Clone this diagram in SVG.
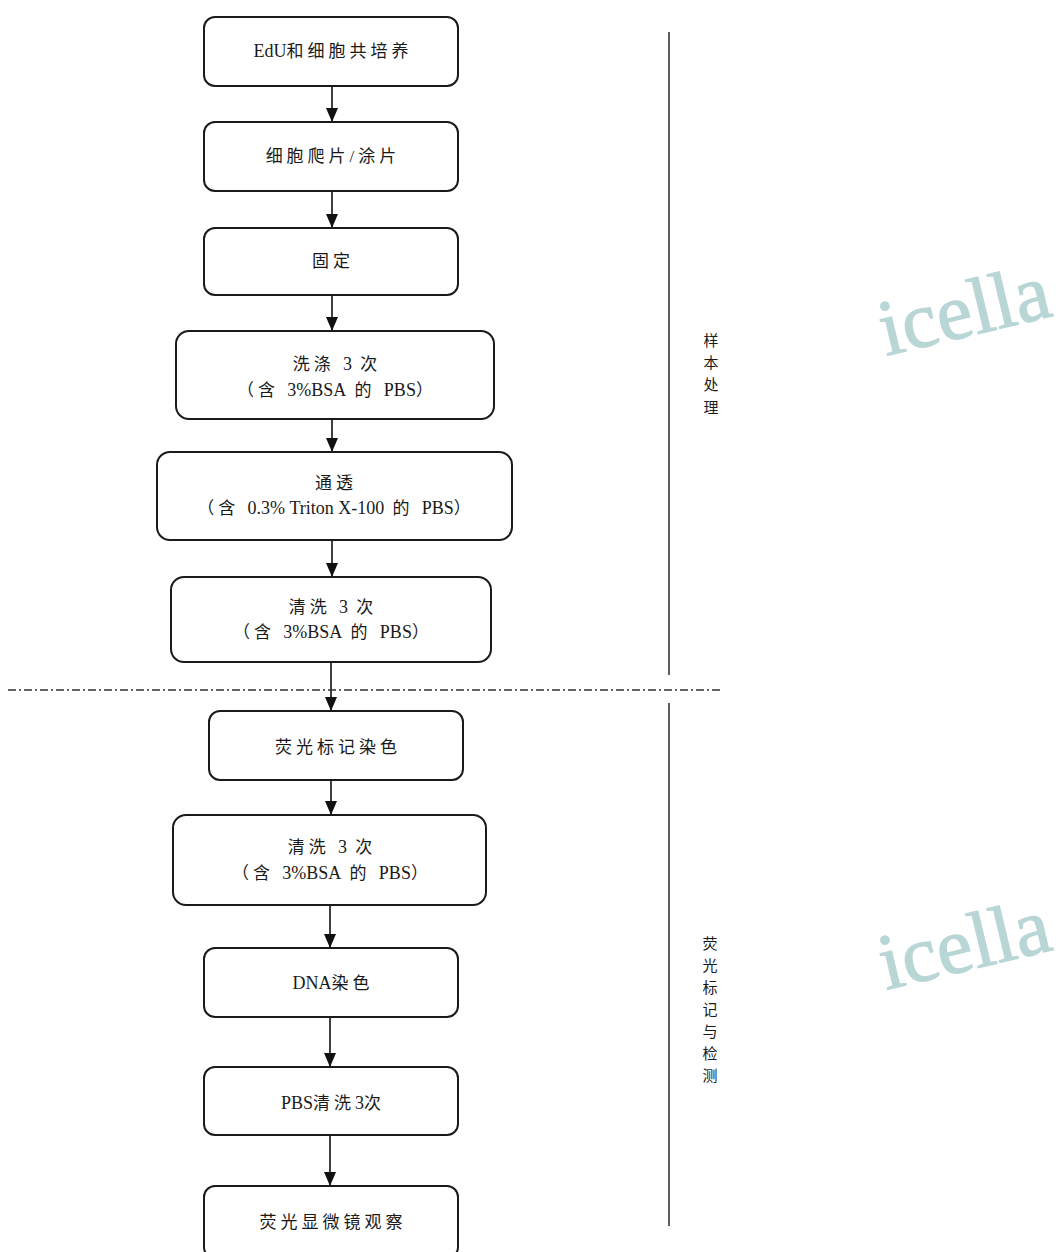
<svg xmlns="http://www.w3.org/2000/svg" width="1063" height="1252" viewBox="0 0 1063 1252">
<defs>
<style>
.box{fill:#fff;stroke:#1a1a1a;stroke-width:2}
.t{font-family:"Liberation Serif","Noto Sans CJK SC",serif;font-size:17px;fill:#1a1a1a;text-anchor:middle;letter-spacing:4px}
.l{font-size:18px;letter-spacing:0}
.side{font-family:"Liberation Serif","Noto Sans CJK SC",serif;font-size:15px;fill:#1a1a1a;text-anchor:middle}
.c{stroke:#111;stroke-width:1.6;fill:none}
.wm{font-family:"Liberation Serif",serif;font-size:80px;fill:#b9d6d6;stroke:#b9d6d6;stroke-width:1.2}
</style>
<marker id="ah" viewBox="0 0 14 12" refX="14" refY="6" markerWidth="14" markerHeight="12" markerUnits="userSpaceOnUse" orient="auto">
<path d="M0,0 L14,6 L0,12 Z" fill="#111"/>
</marker>
</defs>
<rect width="1063" height="1252" fill="#fff"/>
<g id="watermarks">
<text class="wm" transform="translate(886,356) rotate(-13.5)">icella</text>
<text class="wm" transform="translate(886,990) rotate(-13.5)">icella</text>
</g>
<g id="connectors">
<line class="c" x1="332" y1="86" x2="332" y2="122" marker-end="url(#ah)"/>
<line class="c" x1="332" y1="191" x2="332" y2="228" marker-end="url(#ah)"/>
<line class="c" x1="332" y1="295" x2="332" y2="331" marker-end="url(#ah)"/>
<line class="c" x1="332" y1="419" x2="332" y2="452" marker-end="url(#ah)"/>
<line class="c" x1="332" y1="540" x2="332" y2="577" marker-end="url(#ah)"/>
<line class="c" x1="331" y1="662" x2="331" y2="711" marker-end="url(#ah)"/>
<line class="c" x1="331" y1="780" x2="331" y2="815" marker-end="url(#ah)"/>
<line class="c" x1="330" y1="905" x2="330" y2="948" marker-end="url(#ah)"/>
<line class="c" x1="330" y1="1017" x2="330" y2="1067" marker-end="url(#ah)"/>
<line class="c" x1="330" y1="1135" x2="330" y2="1186" marker-end="url(#ah)"/>
</g>
<g id="dividers">
<line x1="8" y1="690" x2="722" y2="690" stroke="#333" stroke-width="1.5" stroke-dasharray="8,3,2,3"/>
<line x1="669" y1="32" x2="669" y2="675" stroke="#333" stroke-width="1.6"/>
<line x1="669" y1="703" x2="669" y2="1226" stroke="#333" stroke-width="1.6"/>
</g>
<g id="n1"><rect class="box" x="204" y="17" width="254" height="69" rx="11"/><text class="t" x="333" y="57"><tspan class="l">EdU</tspan>和细胞共培养</text></g>
<g id="n2"><rect class="box" x="204" y="122" width="254" height="69" rx="11"/><text class="t" x="333" y="162">细胞爬片/涂片</text></g>
<g id="n3"><rect class="box" x="204" y="228" width="254" height="67" rx="11"/><text class="t" x="333" y="267">固定</text></g>
<g id="n4"><rect class="box" x="176" y="331" width="318" height="88" rx="13"/><text class="t" x="337" y="370">洗涤 <tspan class="l">3</tspan> 次</text><text class="t" x="337" y="396">（含 <tspan class="l">3%BSA</tspan> 的 <tspan class="l">PBS</tspan>）</text></g>
<g id="n5"><rect class="box" x="157" y="452" width="355" height="88" rx="13"/><text class="t" x="336" y="489">通透</text><text class="t" x="336" y="514">（含 <tspan class="l">0.3% Triton X-100</tspan> 的 <tspan class="l">PBS</tspan>）</text></g>
<g id="n6"><rect class="box" x="171" y="577" width="320" height="85" rx="13"/><text class="t" x="333" y="613">清洗 <tspan class="l">3</tspan> 次</text><text class="t" x="333" y="638">（含 <tspan class="l">3%BSA</tspan> 的 <tspan class="l">PBS</tspan>）</text></g>
<g id="n7"><rect class="box" x="209" y="711" width="254" height="69" rx="11"/><text class="t" x="338" y="753">荧光标记染色</text></g>
<g id="n8"><rect class="box" x="173" y="815" width="313" height="90" rx="13"/><text class="t" x="332" y="853">清洗 <tspan class="l">3</tspan> 次</text><text class="t" x="332" y="879">（含 <tspan class="l">3%BSA</tspan> 的 <tspan class="l">PBS</tspan>）</text></g>
<g id="n9"><rect class="box" x="204" y="948" width="254" height="69" rx="11"/><text class="t" x="333" y="989"><tspan class="l">DNA</tspan>染色</text></g>
<g id="n10"><rect class="box" x="204" y="1067" width="254" height="68" rx="11"/><text class="t" x="333" y="1109"><tspan class="l">PBS</tspan>清洗<tspan class="l">3</tspan>次</text></g>
<g id="n11"><rect class="box" x="204" y="1186" width="254" height="72" rx="11"/><text class="t" x="333" y="1228">荧光显微镜观察</text></g>
<g id="label1">
<text class="side" x="711" y="346">样</text><text class="side" x="711" y="368">本</text><text class="side" x="711" y="390">处</text><text class="side" x="711" y="413">理</text>
</g>
<g id="label2">
<text class="side" x="710" y="949">荧</text><text class="side" x="710" y="971">光</text><text class="side" x="710" y="993">标</text><text class="side" x="710" y="1015">记</text><text class="side" x="710" y="1037">与</text><text class="side" x="710" y="1059">检</text><text class="side" x="710" y="1081">测</text>
</g>
</svg>
